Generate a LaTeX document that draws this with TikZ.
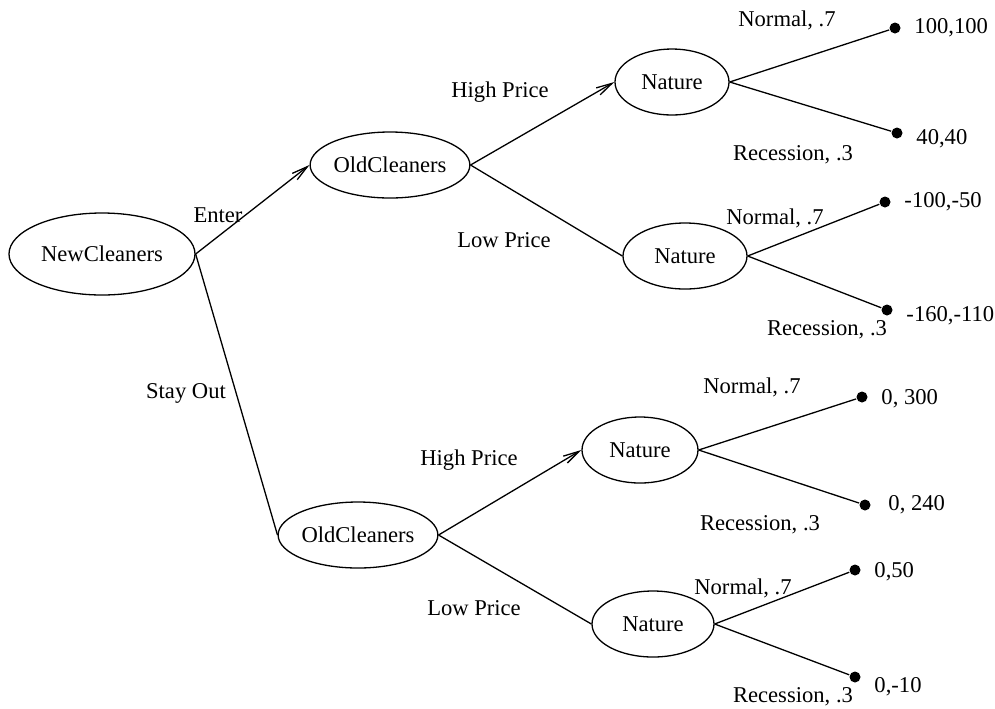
\documentclass[tikz,border=0pt]{standalone}
\usepackage{fontspec}
\setmainfont{Liberation Serif}
\usetikzlibrary{shapes.geometric, positioning, arrows.meta}

\begin{document}
\begin{tikzpicture}[x=0.5pt, y=-0.5pt, line width=0.65pt,
    every node/.style={font=\fontsize{11.3}{13}\selectfont},
    player/.style={draw, ellipse, inner sep=0pt},
    firm/.style={player, minimum width=77pt, minimum height=33pt},
    nature/.style={player, minimum width=59pt, minimum height=33pt},
    leaf/.style={circle, fill, inner sep=0pt, minimum size=5.5pt},
    payoff/.style={right=3pt of #1},
    move/.style={-{Straight Barb[length=8pt,width=4pt]}}]
    \useasboundingbox (0,0) rectangle (995,708);

    % decision and chance nodes
    \node[player, minimum width=93pt, minimum height=41pt] (new) at (102,254) {NewCleaners};
    \node[firm] (oldA) at (390,165) {OldCleaners};
    \node[firm] (oldB) at (358,535) {OldCleaners};
    \node[nature, minimum width=57pt] (natA) at (672,82) {Nature};
    \node[nature, minimum width=62pt] (natB) at (685,256) {Nature};
    \node[nature, minimum width=58pt] (natC) at (640,450) {Nature};
    \node[nature, minimum width=61pt] (natD) at (653,624) {Nature};

    % terminal nodes
    \node[leaf] (tA1) at (895,28) {};
    \node[leaf] (tA2) at (897,133) {};
    \node[leaf] (tB1) at (885,202) {};
    \node[leaf] (tB2) at (887,310) {};
    \node[leaf] (tC1) at (862,397) {};
    \node[leaf] (tC2) at (865,505) {};
    \node[leaf] (tD1) at (855,570) {};
    \node[leaf] (tD2) at (855,677) {};

    \node[payoff=tA1] {100,100};
    \node[payoff=tA2, yshift=-3pt] {40,40};
    \node[payoff=tB1] {-100,-50};
    \node[payoff=tB2, yshift=-3pt] {-160,-110};
    \node[payoff=tC1, yshift=-1pt] {0, 300};
    \node[payoff=tC2, xshift=2pt] {0, 240};
    \node[payoff=tD1, yshift=-1pt] {0,50};
    \node[payoff=tD2, yshift=-5pt] {0,-10};

    % branches
    \draw[move] (new.east) -- (oldA.west);
    \draw (new.east) -- (oldB.west);
    \draw[move] (oldA.east) -- (natA.west);
    \draw (oldA.east) -- (natB.west);
    \draw[move] (oldB.east) -- (natC.west);
    \draw (oldB.east) -- (natD.west);
    \draw (natA.east) -- (tA1);
    \draw (natA.east) -- (tA2);
    \draw (natB.east) -- (tB1);
    \draw (natB.east) -- (tB2);
    \draw (natC.east) -- (tC1);
    \draw (natC.east) -- (tC2);
    \draw (natD.east) -- (tD1);
    \draw (natD.east) -- (tD2);

    % branch labels
    \node at (218,215) {Enter};
    \node at (186,393) {Stay Out};
    \node at (500,92) {High Price};
    \node at (504,240) {Low Price};
    \node at (469,460) {High Price};
    \node at (474,608) {Low Price};
    \node at (787,20) {Normal, .7};
    \node at (793,155) {Recession, .3};
    \node at (775,218) {Normal, .7};
    \node at (827,330) {Recession, .3};
    \node at (752,387) {Normal, .7};
    \node at (760,525) {Recession, .3};
    \node at (743,588) {Normal, .7};
    \node at (793,697) {Recession, .3};
\end{tikzpicture}
\end{document}
